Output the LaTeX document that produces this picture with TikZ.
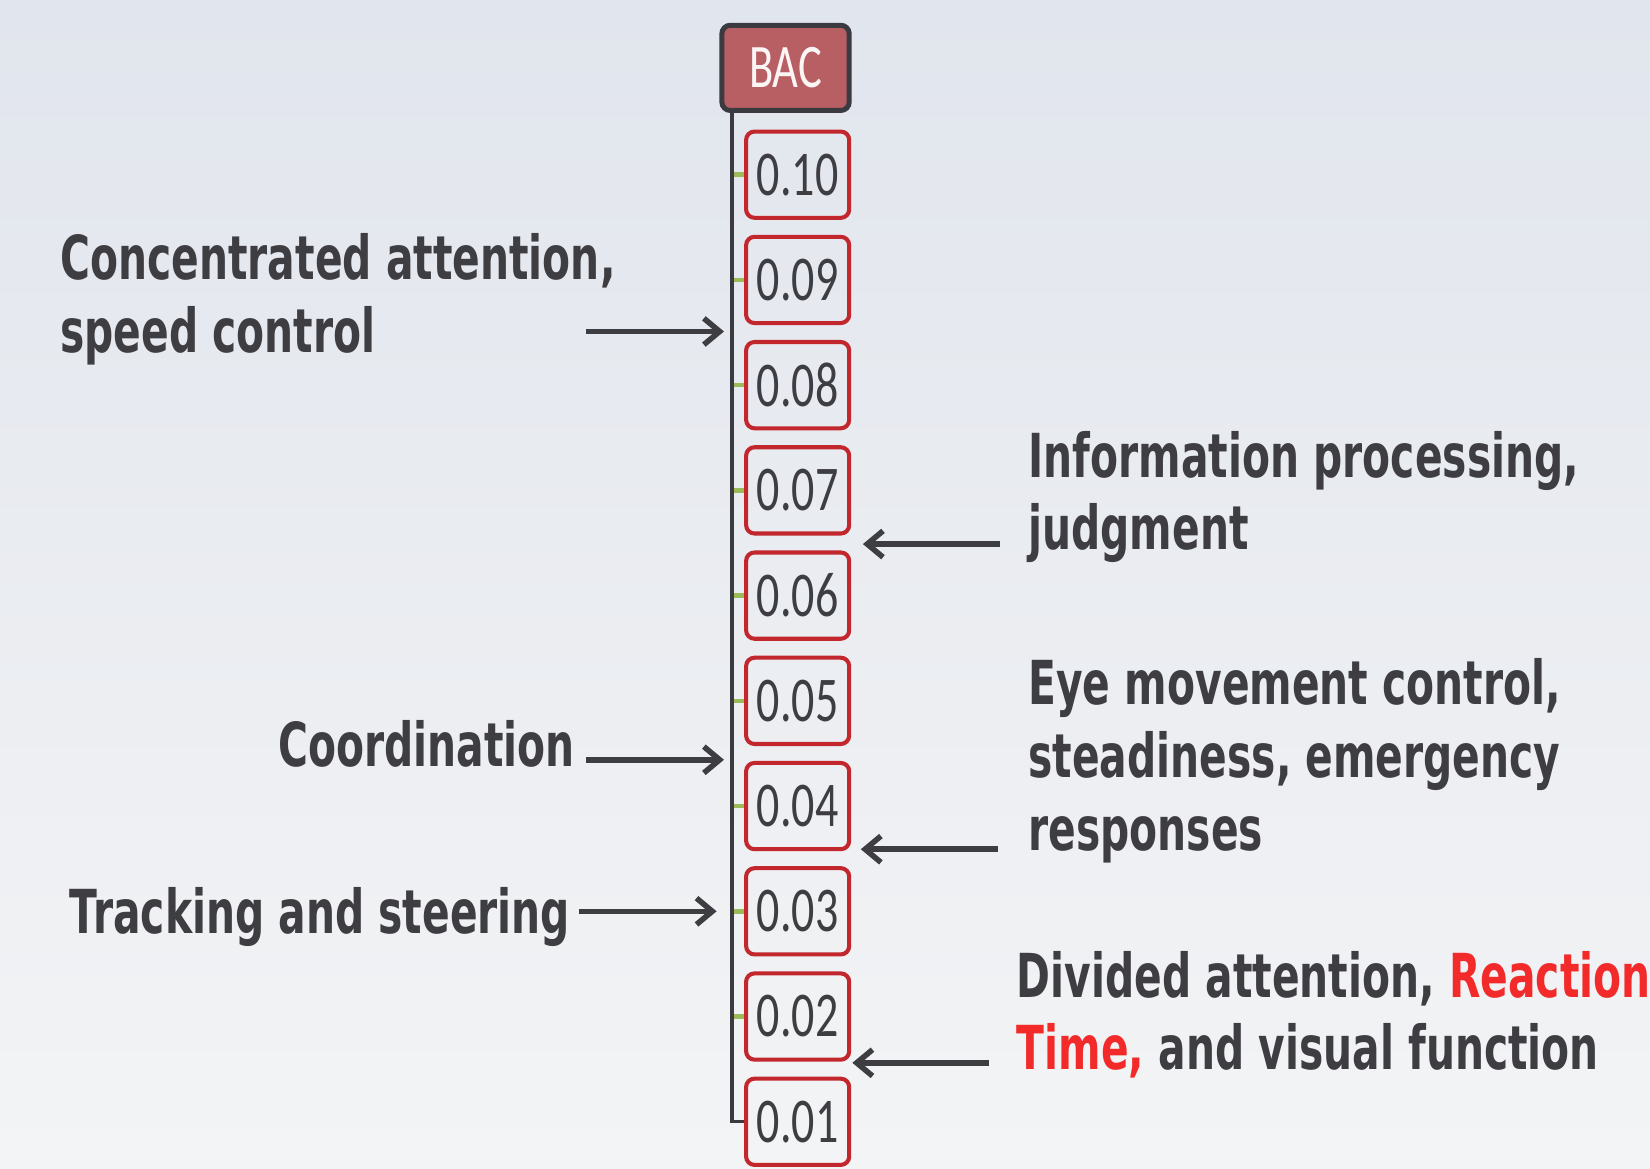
\documentclass[tikz,border=0pt]{standalone}
\usepackage{fontspec}
\usetikzlibrary{arrows.meta}
\newfontfamily\lblfont{DejaVu Sans}[FakeStretch=0.673]
\newfontfamily\numfont{Carlito}[FakeStretch=0.72]
\definecolor{ltop}{HTML}{E1E5ED}
\definecolor{lbottom}{HTML}{F3F4F5}
\definecolor{dgrey}{HTML}{3E3D42}
\definecolor{lred}{HTML}{F22A2A}
\definecolor{dred}{HTML}{C1272D}
\definecolor{lrose}{HTML}{B85F63}
\definecolor{lgreen}{HTML}{9BBB59}
\definecolor{lframe}{HTML}{3A3A40}

\begin{document}
\begin{tikzpicture}[x=0.02cm,y=-0.02cm,
    bigtext/.style={font=\lblfont\bfseries\fontsize{32.8}{39.3}\selectfont, text=dgrey, align=left, inner sep=0pt, anchor=base west},
    valbox/.style={draw=dred, line width=2.2pt, rounded corners=0.16cm, minimum width=1.96cm, minimum height=1.64cm, inner sep=0pt, font=\numfont\fontsize{34.5}{36}\selectfont, text=dgrey},
    pointer/.style={draw=dgrey, line width=3pt, -{Straight Barb[length=0.3cm,width=0.5cm]}},
    tick/.style={lgreen, line width=2.4pt}]
    \useasboundingbox (0,0) rectangle (1568,1110);
    \shade[top color=ltop, bottom color=lbottom] (0,0) rectangle (1568,1110);

    % BAC scale
    \foreach \v [count=\i] in {10,09,08,07,06,05,04,03,02,01}
        \node[valbox] (val\i) at (758,{166+100*(\i-1)}) {0.\v};
    \foreach \i in {1,...,9}
        \draw[tick] (val\i.west) -- ++(-11,0);
    \node[draw=lframe, line width=2.7pt, fill=lrose, rounded corners=0.16cm, minimum width=2.42cm, minimum height=1.62cm, inner sep=0pt, font=\numfont\fontsize{33.5}{36}\selectfont, text=white!94!lrose] (bac) at (746.5,64.5) {BAC};
    \draw[lframe, line width=1.8pt] ([xshift=0.24cm]bac.south west) |- (val10.west);

    % effects (base = last line)
    \node[bigtext] (conc) at (57,335) {Concentrated attention,\\speed control};
    \node[bigtext] (coord) at (264,728.6) {Coordination};
    \node[bigtext] (track) at (66,887) {Tracking and steering};
    \node[bigtext] (info) at (977,522.5) {Information processing,\\judgment};
    \node[bigtext] (eye) at (977,808) {Eye movement control,\\steadiness, emergency\\responses};
    \node[bigtext] (divided) at (966,1016.5) {Divided attention, \textcolor{lred}{Reaction}\\\textcolor{lred}{Time,} and visual function};

    \coordinate (conc-tail) at (557,315);  \coordinate (conc-tip) at (688,315);
    \coordinate (coord-tail) at (557,722); \coordinate (coord-tip) at (688,722);
    \coordinate (track-tail) at (550,866); \coordinate (track-tip) at (681,866);
    \coordinate (info-tail) at (950,517);  \coordinate (info-tip) at (820,517);
    \coordinate (eye-tail) at (948,807);   \coordinate (eye-tip) at (818,807);
    \coordinate (div-tail) at (940,1010);  \coordinate (div-tip) at (810,1010);
    \foreach \a in {conc,coord,track,info,eye,div}
        \draw[pointer] (\a-tail) -- (\a-tip);
\end{tikzpicture}
\end{document}
